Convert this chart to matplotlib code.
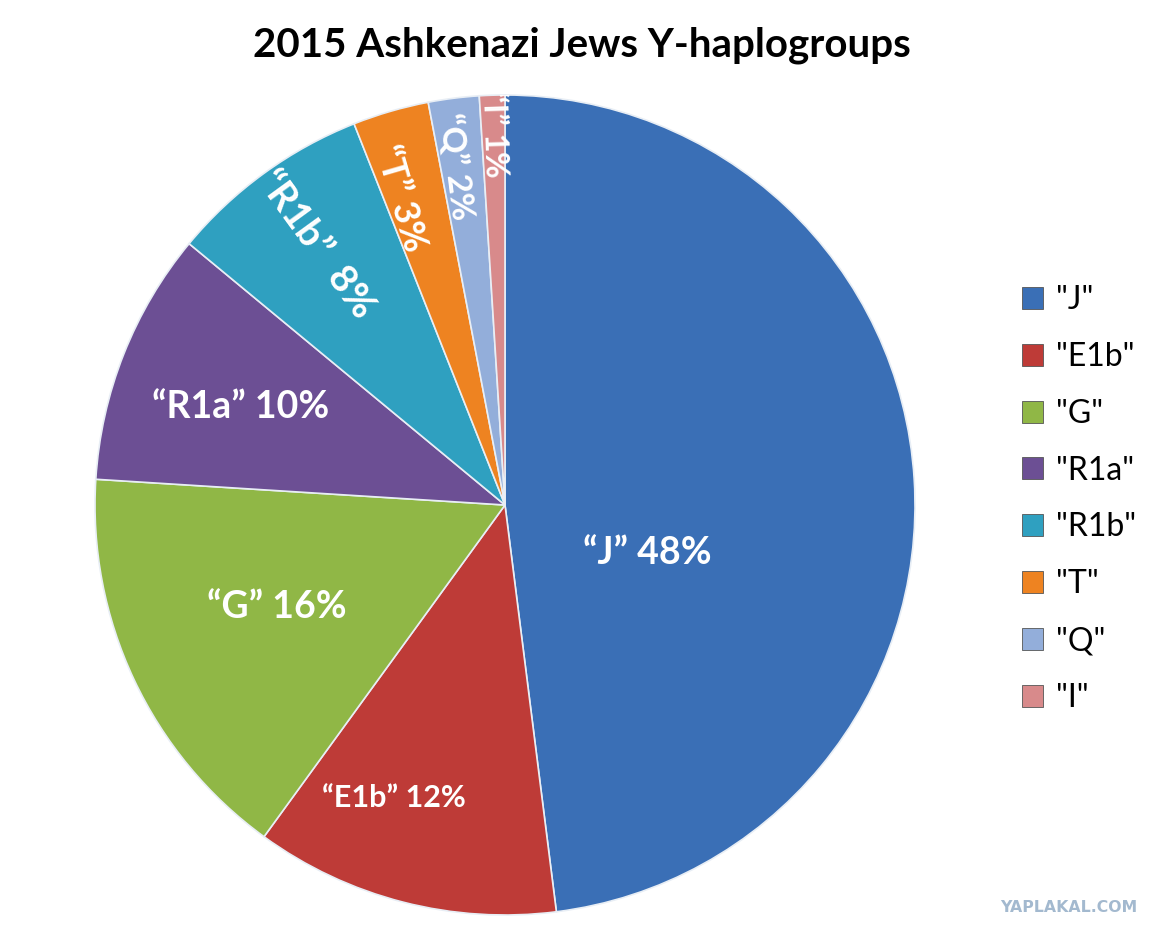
import matplotlib
matplotlib.use("Agg")
import matplotlib.pyplot as plt
from matplotlib.patches import Rectangle
import numpy as np

categories = ['"J"', '"E1b"', '"G"', '"R1a"', '"R1b"', '"T"', '"Q"', '"I"']
label_names = ['\u201cJ\u201d', '\u201cE1b\u201d', '\u201cG\u201d', '\u201cR1a\u201d', '\u201cR1b\u201d', '\u201cT\u201d', '\u201cQ\u201d', '\u201cI\u201d']
values = [48, 12, 16, 10, 8, 3, 2, 1]
colors = ['#3a6fb6', '#be3b37', '#90b746', '#6c4f94', '#2fa0c0', '#ee8321', '#93aeda', '#d88a8b']
title = '2015 Ashkenazi Jews Y-haplogroups'

# label layout (data coords, radius 1) and rotation
label_pos = [(0.346, -0.117), (-0.271, -0.715), (-0.556, -0.249), (-0.644, 0.239),
             (-0.46, 0.635), (-0.256, 0.748), (-0.12, 0.825), (-0.027, 0.905)]
rotated = [False, False, False, False, True, True, True, True]
label_sizes = [27, 22, 27, 27, 28, 26, 24, 23]
seps = [' ', ' ', ' ', ' ', '  ', ' ', ' ', ' ']

W, H = 1164, 939
fig = plt.figure(figsize=(W / 100, H / 100), dpi=100)
cx, cy, r = 505, 505, 410
ax = fig.add_axes([(cx - r) / W, (H - cy - r) / H, 2 * r / W, 2 * r / H])

wedges, _ = ax.pie(values, colors=colors, startangle=90, counterclock=False, radius=1,
                   wedgeprops=dict(edgecolor='#e8eef5', linewidth=1.2))
ax.set_xlim(-1, 1)
ax.set_ylim(-1, 1)
ax.set_aspect('auto')
ax.axis('off')

for w, name, v, pos, rot, fs, sep in zip(wedges, label_names, values, label_pos, rotated, label_sizes, seps):
    mid = 0.5 * (w.theta1 + w.theta2)
    angle = mid - 180 if rot else 0
    ax.text(pos[0], pos[1], f'{name}{sep}{v}%', color='white', fontsize=fs, fontweight='bold',
            family='Lato', ha='center', va='center', rotation=angle, rotation_mode='anchor',
            clip_on=True)

fig.text(582 / W, 1 - 45 / H, title, ha='center', va='center', fontsize=29,
         fontweight='bold', family='Lato', color='black')

handles = [Rectangle((0, 0), 1, 1, facecolor=c, edgecolor='#555555', linewidth=0.6) for c in colors]
leg = fig.legend(handles, categories, loc='center left', bbox_to_anchor=(993 / W, 1 - 499 / H),
                 frameon=False, prop=dict(family='Lato', size=23), handlelength=0.68,
                 handleheight=0.68, handletextpad=0.4, labelspacing=0.84)

fig.text(1069 / W, 1 - 908 / H, 'YAPLAKAL.COM', ha='center', va='center', fontsize=11.3,
         fontweight='heavy', family='DejaVu Sans', color='#a3b9cf')

fig.savefig('out.png', dpi=100, facecolor='white')
